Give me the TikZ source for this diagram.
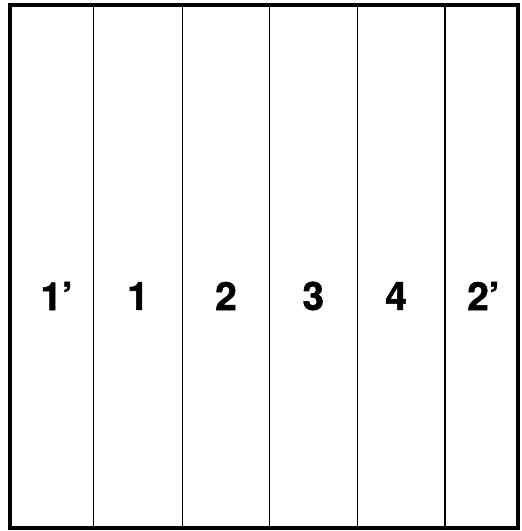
\documentclass[tikz,border=0pt]{standalone}
\usepackage{fontspec}
\setmainfont{TeX Gyre Heros}
\newfontfamily\digitfont{TeX Gyre Heros}[Ligatures=TeX, BoldFeatures={FakeBold=1.4}]
\usetikzlibrary{positioning}

\begin{document}
\begin{tikzpicture}[x=1pt, y=1pt,
		strip/.style={draw, line width=1.4pt, minimum height=523pt, inner sep=0pt, outer sep=0pt},
		digit/.style={font=\fontsize{39}{39}\selectfont\digitfont\bfseries, inner sep=0pt},
		frame/.style={draw, line width=3.2pt}
		]
		\useasboundingbox (0,0) rectangle (522,531);
		
		% --- the six strips ---
		\node[strip, minimum width=83.3pt, anchor=north west] (s1) at (10,526) {};
		\node[strip, minimum width=89.4pt, right=0pt of s1] (s2) {};
		\node[strip, minimum width=86.6pt, right=0pt of s2] (s3) {};
		\node[strip, minimum width=88pt, right=0pt of s3] (s4) {};
		\node[strip, minimum width=87.7pt, right=0pt of s4] (s5) {};
		\node[strip, minimum width=73pt, right=0pt of s5] (s6) {};
		
		% outer border
		\draw[frame] (s1.north west) rectangle (s6.south east);
		
		% --- labels, a bit below the middle ---
		\node[digit] (l1) at ([xshift=5pt, yshift=-29.5pt]s1.center) {1'};
		\node[digit] (l2) at ([yshift=-29.5pt]s2.center) {1};
		\node[digit] (l3) at ([yshift=-29.5pt]s3.center) {2};
		\node[digit] (l4) at ([yshift=-29.5pt]s4.center) {3};
		\node[digit] (l5) at ([xshift=-5pt, yshift=-29.5pt]s5.center) {4};
		\node[digit] (l6) at ([xshift=2pt, yshift=-29.5pt]s6.center) {2'};
		
	\end{tikzpicture}
\end{document}
